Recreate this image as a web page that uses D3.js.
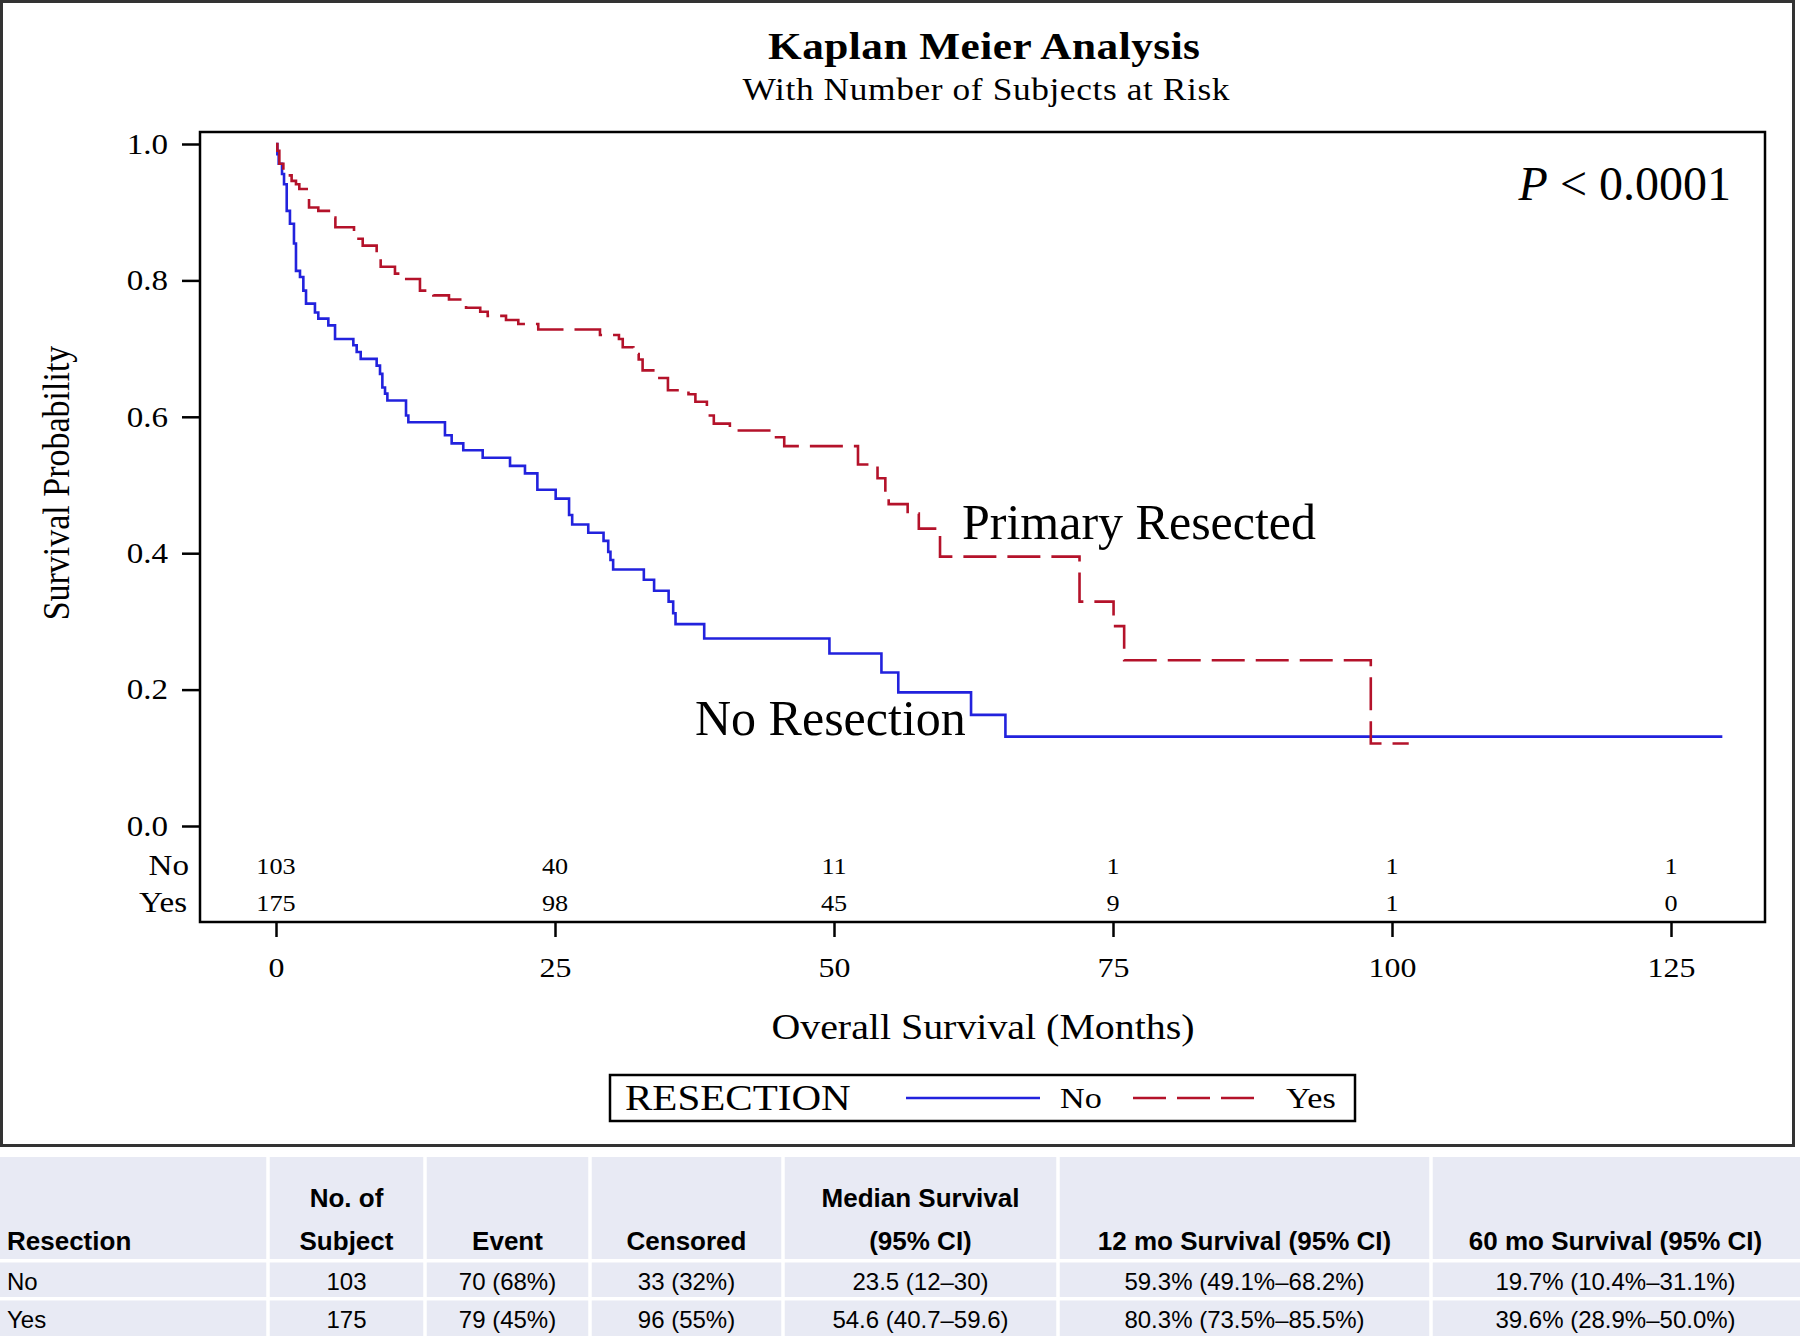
<!DOCTYPE html>
<html>
  <head>
    <meta charset="utf-8">
    <title>Kaplan Meier Analysis</title>
    <script src="https://d3js.org/d3.v7.min.js"></script>
    <style>
    body{margin:0; background:white;}
    svg{display:block; background-color:white;}
    .serif{font-family:"Liberation Serif","Times New Roman",serif; fill:black;}
    .tbl{font-family:"Liberation Sans",Arial,sans-serif; fill:black;}
    </style>
  </head>
  <body>
    <script>
    // survival curves (months, survival)
    var noTime = [0, 0.12, 0.24, 0.54, 0.72, 0.96, 1.25, 1.61, 1.79, 2.15, 2.45, 2.69, 3.49, 3.79, 4.69, 5.29, 6.93, 7.23, 7.59, 9.02, 9.32, 9.53, 9.77, 9.98, 11.65, 11.86, 15.14, 15.74, 16.78, 18.52, 20.97, 22.31, 23.42, 25.06, 26.26, 26.54, 27.98, 29.35, 29.77, 29.97, 30.21, 32.96, 33.88, 35.18, 35.59, 35.80, 38.37, 49.59, 54.25, 55.76, 62.28, 65.36, 129.6];
    var noSurv = [1, 0.985, 0.971, 0.956, 0.941, 0.902, 0.883, 0.854, 0.814, 0.805, 0.785, 0.766, 0.753, 0.744, 0.734, 0.714, 0.705, 0.695, 0.685, 0.675, 0.663, 0.643, 0.634, 0.624, 0.602, 0.592, 0.573, 0.561, 0.551, 0.540, 0.528, 0.517, 0.493, 0.480, 0.456, 0.442, 0.430, 0.418, 0.402, 0.390, 0.376, 0.361, 0.345, 0.329, 0.312, 0.296, 0.275, 0.253, 0.225, 0.196, 0.163, 0.131, 0.131];
    var yesTime = [0, 0.12, 0.30, 0.66, 1.40, 1.79, 2.09, 2.75, 2.96, 3.79, 5.14, 5.32, 6.99, 7.23, 7.77, 9.02, 9.17, 9.38, 10.66, 11.26, 12.9, 14.1, 15.5, 17.03, 18.3, 18.97, 20.61, 21.71, 23.5, 29.03, 30.73, 31.07, 32.02, 32.5, 32.85, 34.09, 35.12, 36.96, 37.58, 38.61, 39.23, 40.67, 44.61, 45.54, 52.15, 53.9, 54.6, 54.9, 56.6, 57.6, 59.5, 72.0, 75.05, 76.0, 98.1, 101.5];
    var yesSurv = [1, 0.990, 0.971, 0.954, 0.946, 0.941, 0.934, 0.924, 0.907, 0.902, 0.892, 0.878, 0.871, 0.861, 0.851, 0.841, 0.832, 0.820, 0.810, 0.802, 0.785, 0.778, 0.772, 0.760, 0.754, 0.748, 0.742, 0.736, 0.728, 0.720, 0.714, 0.702, 0.692, 0.684, 0.668, 0.657, 0.639, 0.633, 0.622, 0.602, 0.590, 0.580, 0.570, 0.557, 0.530, 0.510, 0.486, 0.472, 0.458, 0.436, 0.395, 0.329, 0.293, 0.243, 0.121, 0.121];

    // number at risk
    var riskTimes = [0, 25, 50, 75, 100, 125];
    var riskNo = [103, 40, 11, 1, 1, 1];
    var riskYes = [175, 98, 45, 9, 1, 0];

    // axis ticks
    var xTicks = [0, 25, 50, 75, 100, 125];
    var yTicks = [0, 0.2, 0.4, 0.6, 0.8, 1.0];

    // summary table below the plot
    var tableHead1 = ["", "No. of", "", "", "Median Survival", "", ""];
    var tableHead2 = ["Resection", "Subject", "Event", "Censored", "(95% CI)", "12 mo Survival (95% CI)", "60 mo Survival (95% CI)"];
    var tableNo = ["No", "103", "70 (68%)", "33 (32%)", "23.5 (12\u201330)", "59.3% (49.1%\u201368.2%)", "19.7% (10.4%\u201331.1%)"];
    var tableYes = ["Yes", "175", "79 (45%)", "96 (55%)", "54.6 (40.7\u201359.6)", "80.3% (73.5%\u201385.5%)", "39.6% (28.9%\u201350.0%)"];

    var width = 1800;
    var height = 1336;
    var sx = 1.14; // the sas figure is a bit stretched sideways

    var blue = "#2222dd";
    var red = "#b4122a";

    var svg = d3.select("body").append("svg").attr("width", width).attr("height", height);

    // stretched serif text
    function stext(x0, y0, str, size, anchor) {
      return svg.append("text")
        .attr("class", "serif")
        .attr("transform", "translate(" + x0 + "," + y0 + ") scale(" + sx + ",1)")
        .attr("text-anchor", anchor || "start")
        .style("font-size", size + "px")
        .text(str);
    }

    // outer border of the figure
    svg.append("rect")
      .attr("x", 1.5).attr("y", 1.5).attr("width", 1792).attr("height", 1144)
      .attr("fill", "white").attr("stroke", "#333").attr("stroke-width", 3);

    // titles
    stext(984, 59, "Kaplan Meier Analysis", 38, "middle")
      .style("font-weight", "bold")
      .attr("textLength", 432 / sx).attr("lengthAdjust", "spacing");
    stext(986, 100, "With Number of Subjects at Risk", 31, "middle")
      .attr("textLength", 487 / sx).attr("lengthAdjust", "spacing");

    // scales
    var x = d3.scaleLinear().domain([0, 125]).range([276, 1671]);
    var y = d3.scaleLinear().domain([0, 1]).range([826, 144]);

    // plot frame
    svg.append("rect")
      .attr("x", 200).attr("y", 132).attr("width", 1565).attr("height", 790)
      .attr("fill", "none").attr("stroke", "black").attr("stroke-width", 2.5);

    // y axis
    var gy = svg.append("g").attr("transform", "translate(200,0)")
      .call(d3.axisLeft(y).tickValues(yTicks).tickFormat(d3.format(".1f")).tickSize(18));
    gy.select(".domain").remove();
    gy.selectAll(".tick line").attr("stroke", "black").attr("stroke-width", 2.5);
    gy.selectAll(".tick text")
      .attr("class", "serif")
      .attr("x", -32 / sx)
      .attr("transform", "scale(" + sx + ",1)")
      .style("font-size", "29px");

    // x axis
    var gx = svg.append("g").attr("transform", "translate(0,922)")
      .call(d3.axisBottom(x).tickValues(xTicks).tickSize(15));
    gx.select(".domain").remove();
    gx.selectAll(".tick line").attr("stroke", "black").attr("stroke-width", 2.5);
    gx.selectAll(".tick text")
      .attr("class", "serif")
      .attr("y", 55).attr("dy", 0)
      .attr("transform", "scale(" + sx + ",1)")
      .style("font-size", "28px");

    // axis titles
    stext(983, 1039, "Overall Survival (Months)", 35, "middle");
    svg.append("text")
      .attr("class", "serif")
      .attr("transform", "translate(69,483) scale(" + sx + ",1) rotate(-90)")
      .attr("text-anchor", "middle")
      .style("font-size", "34px")
      .text("Survival Probability");

    // curves
    var line = d3.line()
      .x(function(d){ return x(d[0]); })
      .y(function(d){ return y(d[1]); })
      .curve(d3.curveStepAfter);

    svg.append("path")
      .datum(d3.zip(noTime, noSurv))
      .attr("d", line)
      .attr("fill", "none").attr("stroke", blue).attr("stroke-width", 2.6);

    svg.append("path")
      .datum(d3.zip(yesTime, yesSurv))
      .attr("d", line)
      .attr("fill", "none").attr("stroke", red).attr("stroke-width", 2.6)
      .attr("stroke-dasharray", "33,11");

    // annotations
    var pv = svg.append("text").attr("class", "serif")
      .attr("x", 1731).attr("y", 200)
      .attr("text-anchor", "end")
      .style("font-size", "48px");
    pv.append("tspan").style("font-style", "italic").text("P");
    pv.append("tspan").text(" < 0.0001");

    svg.append("text").attr("class", "serif")
      .attr("x", 962).attr("y", 539)
      .style("font-size", "50px")
      .text("Primary Resected");
    svg.append("text").attr("class", "serif")
      .attr("x", 695).attr("y", 735)
      .style("font-size", "50px")
      .text("No Resection");

    // number at risk rows
    stext(189, 875, "No", 29, "end");
    stext(187, 912, "Yes", 29, "end");
    riskTimes.forEach(function(t, i){
      stext(x(t), 874, riskNo[i], 23, "middle");
      stext(x(t), 911, riskYes[i], 23, "middle");
    });

    // legend
    svg.append("rect")
      .attr("x", 610).attr("y", 1075).attr("width", 745).attr("height", 46)
      .attr("fill", "white").attr("stroke", "black").attr("stroke-width", 2.5);
    stext(625, 1110, "RESECTION", 36);
    svg.append("line")
      .attr("x1", 906).attr("x2", 1040).attr("y1", 1098).attr("y2", 1098)
      .attr("stroke", blue).attr("stroke-width", 2.6);
    stext(1060, 1108, "No", 30);
    svg.append("line")
      .attr("x1", 1133).attr("x2", 1256).attr("y1", 1098).attr("y2", 1098)
      .attr("stroke", red).attr("stroke-width", 2.6)
      .attr("stroke-dasharray", "33,11");
    stext(1286, 1108, "Yes", 30);

    // summary table
    var colEdges = [0, 268, 425, 590, 783, 1058, 1431, 1800];
    var rowBands = [[1157, 1259], [1262.5, 1297], [1300.5, 1336]];
    var tbl = svg.append("g");
    rowBands.forEach(function(b){
      for (var i = 0; i < colEdges.length - 1; i++) {
        var x0 = colEdges[i] + (i > 0 ? 1.75 : 0);
        var x1 = colEdges[i + 1] - (i < colEdges.length - 2 ? 1.75 : 0);
        tbl.append("rect")
          .attr("x", x0).attr("y", b[0]).attr("width", x1 - x0).attr("height", b[1] - b[0])
          .attr("fill", "#e8eaf4");
      }
    });

    function cell(i, yy, str, bold) {
      var left = i == 0;
      var cx = left ? 7 : (colEdges[i] + colEdges[i + 1]) / 2;
      tbl.append("text")
        .attr("class", "tbl")
        .attr("x", cx).attr("y", yy)
        .attr("text-anchor", left ? "start" : "middle")
        .style("font-size", bold ? "26px" : "24px")
        .style("font-weight", bold ? "bold" : "normal")
        .text(str);
    }
    tableHead1.forEach(function(s, i){ if (s) cell(i, 1207, s, true); });
    tableHead2.forEach(function(s, i){ cell(i, 1250, s, true); });
    tableNo.forEach(function(s, i){ cell(i, 1290, s, false); });
    tableYes.forEach(function(s, i){ cell(i, 1328, s, false); });

    </script>
  </body>
</html>
